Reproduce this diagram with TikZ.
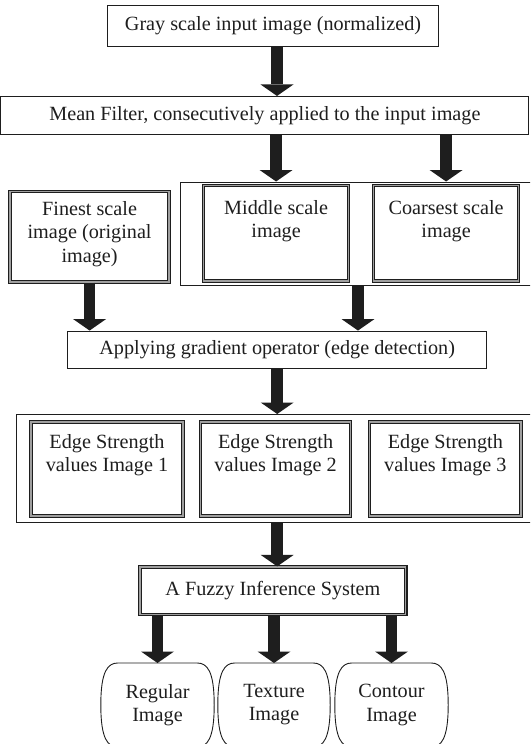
\documentclass[tikz,border=0pt]{standalone}
\usepackage{fontspec}
\setmainfont{Liberation Serif}
\usetikzlibrary{arrows.meta,calc}
\definecolor{ink}{HTML}{1E1E1E}
\tikzset{
  txt/.style={inner sep=0pt, align=center, text=ink, font=\fontsize{20.2}{23.5}\selectfont},
  plainbox/.style={draw=ink, line width=0.9pt, fill=white, inner sep=0pt, text=ink, font=\fontsize{20.2}{23.5}\selectfont},
  dbox/.style={draw=ink, line width=1.2pt, double=gray!75, double distance=1.3pt, fill=white, inner sep=0pt},
  outspot/.style={draw=none, inner sep=0pt},
  outline/.style={draw=ink, line width=0.9pt, fill=white},
  barrow/.style={draw=ink, line width=11.5pt, -{Triangle[width=33pt,length=11.5pt,line width=0pt]}},
}
\newcommand\barrelshape[1]{%
  \draw[outline] ($(#1.north west)+(17,0)$) -- ($(#1.north east)+(-17,0)$)
    .. controls ($(#1.north east)+(-7,0)$) and ($(#1.north east)+(0,8)$) .. ($(#1.north east)+(0,42)$)
    .. controls ($(#1.north east)+(0,76)$) and ($(#1.north east)+(-7,84)$) .. ($(#1.north east)+(-17,84)$)
    -- ($(#1.north west)+(17,84)$)
    .. controls ($(#1.north west)+(7,84)$) and ($(#1.north west)+(0,76)$) .. ($(#1.north west)+(0,42)$)
    .. controls ($(#1.north west)+(0,8)$) and ($(#1.north west)+(7,0)$) .. cycle;%
}
\begin{document}
\begin{tikzpicture}[x=1pt,y=-1pt]
\clip (0,0) rectangle (530,744);
\fill[white] (0,0) rectangle (530,744);

% top boxes
\node[plainbox, minimum width=331pt, minimum height=41pt] (gray) at (273,25.9) {Gray scale input image (normalized)};
\node[plainbox, minimum width=528pt, minimum height=38pt] (mean) at (264.9,115.4) {Mean Filter, consecutively applied to the input image};

% group 1
\node[plainbox, minimum width=360pt, minimum height=103.3pt, anchor=north west] (g1) at (180,181.5) {};
\node[dbox, minimum width=159pt, minimum height=90.5pt, anchor=north west] (fine) at (9.5,191) {};
\node[dbox, minimum width=145pt, minimum height=95.5pt, anchor=north west] (mid) at (203,185) {};
\node[dbox, minimum width=145pt, minimum height=95.5pt, anchor=north west] (coar) at (373,185) {};
\node[txt, anchor=north] (finet) at ([yshift=-10pt]fine.north) {Finest scale\\image (original\\image)};
\node[txt, anchor=north] (midt) at ([yshift=-15pt]mid.north) {Middle scale\\image};
\node[txt, anchor=north] (coart) at ([yshift=-15pt]coar.north) {Coarsest scale\\image};

\node[plainbox, minimum width=419pt, minimum height=37pt] (grad) at (277.2,349.5) {Applying gradient operator (edge detection)};

% group 2
\node[plainbox, minimum width=520pt, minimum height=107.6pt, anchor=north west] (g2) at (16.2,414) {};
\node[dbox, minimum width=152pt, minimum height=94pt, anchor=north west] (e1) at (30.4,421.5) {};
\node[dbox, minimum width=150pt, minimum height=94pt, anchor=north west] (e2) at (200,421.5) {};
\node[dbox, minimum width=151.5pt, minimum height=94pt, anchor=north west] (e3) at (369,421.5) {};
\node[txt, anchor=north] (e1t) at ([yshift=-12.5pt]e1.north) {Edge Strength\\values Image 1};
\node[txt, anchor=north] (e2t) at ([yshift=-12.5pt]e2.north) {Edge Strength\\values Image 2};
\node[txt, anchor=north] (e3t) at ([yshift=-12.5pt]e3.north) {Edge Strength\\values Image 3};

\node[dbox, minimum width=265.7pt, minimum height=47.4pt] (fuzzy) at (272.9,590.7) {};
\node[txt] (fuzzyt) at (fuzzy.center) {A Fuzzy Inference System};

% outputs
\node[outspot, minimum width=113pt, minimum height=84pt, anchor=north] (reg) at (157.5,663) {};
\node[outspot, minimum width=112pt, minimum height=84pt, anchor=north] (tex) at (274,663) {};
\node[outspot, minimum width=113pt, minimum height=84pt, anchor=north] (con) at (391.5,663) {};
\barrelshape{reg}
\barrelshape{tex}
\barrelshape{con}
\node[txt, anchor=north] (regt) at ([yshift=-21pt]reg.north) {Regular\\Image};
\node[txt, anchor=north] (text) at ([yshift=-21pt]tex.north) {Texture\\Image};
\node[txt, anchor=north] (cont) at ([yshift=-21pt]con.north) {Contour\\Image};

% arrows
\draw[barrow] ([xshift=4pt]gray.south) -- ([xshift=4pt]gray.south |- mean.north);
\draw[barrow] (mid.north |- mean.south) -- (mid.north |- g1.north);
\draw[barrow] (coar.north |- mean.south) -- (coar.north |- g1.north);
\draw[barrow] (fine.south) -- (fine.south |- grad.north);
\draw[barrow] ([xshift=178pt]g1.south west) -- ([xshift=178pt]g1.south west |- grad.north);
\draw[barrow] (grad.south) -- (grad.south |- g2.north);
\draw[barrow] (grad.south |- g2.south) -- (grad.south |- fuzzy.north);
\draw[barrow] (reg.north |- fuzzy.south) -- (reg.north);
\draw[barrow] (tex.north |- fuzzy.south) -- (tex.north);
\draw[barrow] (con.north |- fuzzy.south) -- (con.north);
\end{tikzpicture}
\end{document}
